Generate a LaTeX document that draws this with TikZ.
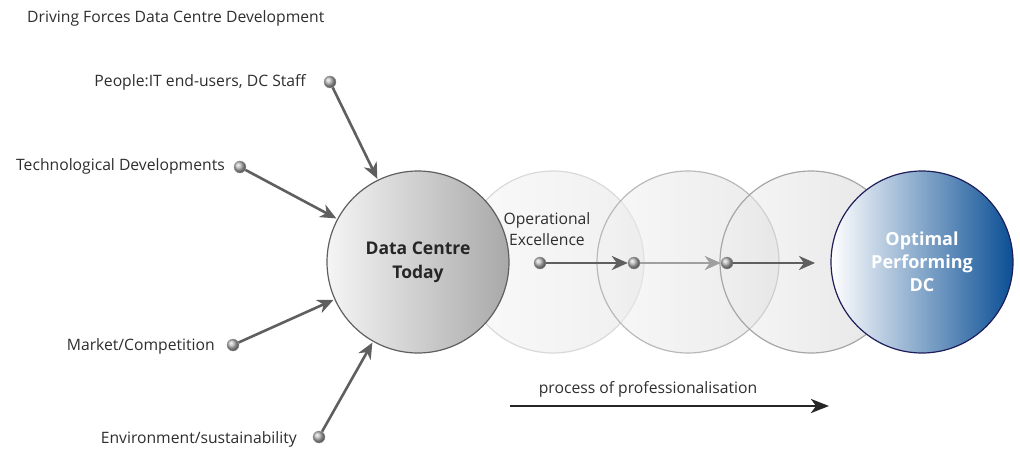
\documentclass[tikz,border=0pt]{standalone}
\usepackage{fontspec}
\setmainfont{Open Sans}
\usetikzlibrary{arrows.meta}
\definecolor{txt}{HTML}{2E2E2E}
\definecolor{arr}{HTML}{5F5F5F}
\definecolor{navy}{HTML}{1E1E5A}
\definecolor{dcblue}{HTML}{0B4F95}
\tikzset{
  lbl/.style={font=\fontsize{15.7}{18}\selectfont, text=txt, inner sep=0pt},
  ball/.style={circle, minimum size=12pt, inner sep=0pt, ball color=gray!55, draw=gray!80, line width=0.4pt},
  force/.style={draw=arr, line width=2.6pt, -{Stealth[length=16pt, width=14pt, inset=5pt]}, shorten >=1pt},
  stage/.style={circle, minimum size=182pt, inner sep=0pt, line width=1.2pt, fill opacity=0.5, draw opacity=1},
  flow/.style={line width=2.6pt, -{Stealth[length=16pt, width=14pt, inset=5pt]}},
}
\begin{document}
\begin{tikzpicture}[x=1pt,y=-1pt]
\useasboundingbox (0,0) rectangle (1020,450);
% faded stage circles
\node[stage, draw=gray!30, left color=gray!8, right color=gray!24] (s2) at (553,262) {};
\node[stage, draw=gray!55, left color=gray!10, right color=gray!32] (s3) at (688,262) {};
\node[stage, draw=gray!70, left color=gray!12, right color=gray!40] (s4) at (811,262) {};
% main circle
\node[circle, minimum size=182pt, inner sep=0pt, line width=1.2pt, draw=arr,
      left color=gray!8, right color=gray!68, align=center, text=black!85,
      font=\fontsize{17.5}{24}\selectfont\bfseries] (dc) at (418,262) {Data Centre\\Today};
% optimal circle
\node[circle, minimum size=182pt, inner sep=0pt, line width=1.2pt, draw=navy,
      left color=white, right color=dcblue, middle color=dcblue!50, align=center, text=white,
      font=\fontsize{18}{23}\selectfont\bfseries] (opt) at (922,262) {Optimal\\Performing\\DC};
% title
\node[lbl, anchor=west] (title) at (27,18) {Driving Forces Data Centre Development};
% driving forces
\node[ball] (b1) at (330,82) {};
\node[ball] (b2) at (240,167) {};
\node[ball] (b3) at (233,345) {};
\node[ball] (b4) at (319,437) {};
\node[lbl, anchor=east] (l1) at (306,82) {People:IT end-users, DC Staff};
\node[lbl, anchor=east] (l2) at (225,166) {Technological Developments};
\node[lbl, anchor=east] (l3) at (215,346) {Market/Competition};
\node[lbl, anchor=east] (l4) at (297,439) {Environment/sustainability};
\draw[force] (b1) -- (dc);
\draw[force] (b2) -- (dc);
\draw[force] (b3) -- (dc);
\draw[force] (b4) -- (dc);
% operational excellence flow
\node[lbl, align=center, font=\fontsize{15.7}{21}\selectfont] (oe) at (547,229) {Operational\\Excellence};
\node[ball] (d1) at (540,263) {};
\node[ball] (d2) at (634,263) {};
\node[ball] (d3) at (727,263) {};
\coordinate (dend) at (815,263);
\draw[flow, draw=arr] (d1) -- (d2);
\draw[flow, draw=gray!75] (d2) -- (d3);
\draw[flow, draw=arr] (d3) -- (dend);
% process arrow
\coordinate (ps) at (510,406);
\coordinate (pe) at (829,406);
\draw[line width=2.8pt, draw=black!85, -{Stealth[length=18pt, width=14pt, inset=5pt]}] (ps) -- (pe);
\node[lbl, anchor=south] (pl) at (648,397) {process of professionalisation};
\end{tikzpicture}
\end{document}
